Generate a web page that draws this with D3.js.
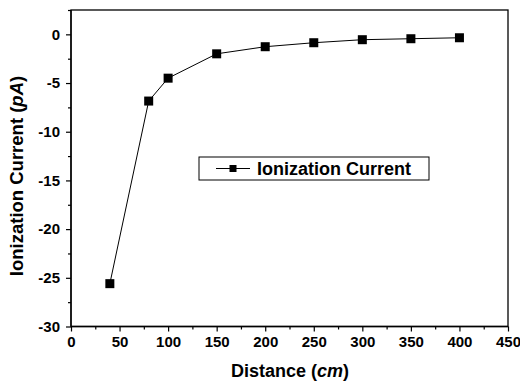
<!DOCTYPE html>
<html><head><meta charset="utf-8">
<script src="https://cdn.jsdelivr.net/npm/d3@7"></script>
<style>body{margin:0;background:#fff}svg{display:block}text{font-family:Arial,"Liberation Sans",sans-serif;font-weight:bold;fill:#000}</style>
</head><body>
<svg id="c" width="520" height="385"></svg>
<script>
const distance = [40, 80, 100, 150, 200, 250, 300, 350, 400];
const current = [-25.6, -6.85, -4.5, -2.0, -1.27, -0.86, -0.55, -0.45, -0.35];
const xTicks = [0, 50, 100, 150, 200, 250, 300, 350, 400, 450];
const yTicks = [0, -5, -10, -15, -20, -25, -30];
const seriesName = "Ionization Current";

const svg = d3.select("#c");
const L = 71, R = 508, T = 10, B = 326.5;
const x = d3.scaleLinear().domain([0, 450]).range([L, R]);
const y = d3.scaleLinear().domain([-30, 2.5]).range([B, T]);

svg.append("rect").attr("x", L).attr("y", T).attr("width", R - L).attr("height", B - T)
  .attr("fill", "none").attr("stroke", "#000").attr("stroke-width", 1.3);

const fmt = d => String(d);
const xAxis = svg.append("g").attr("transform", `translate(0,${B})`)
  .call(d3.axisBottom(x).tickValues(xTicks).tickFormat(fmt).tickSize(5).tickPadding(5));
const xMinor = svg.append("g").attr("transform", `translate(0,${B})`)
  .call(d3.axisBottom(x).tickValues(d3.range(25, 450, 50)).tickSize(3).tickFormat(""));
const yAxis = svg.append("g").attr("transform", `translate(${L},0)`)
  .call(d3.axisLeft(y).tickValues(yTicks).tickFormat(fmt).tickSize(5).tickPadding(6));
const yMinor = svg.append("g").attr("transform", `translate(${L},0)`)
  .call(d3.axisLeft(y).tickValues(d3.range(-27.5, 2.6, 5)).tickSize(3).tickFormat(""));
[xAxis, xMinor, yAxis, yMinor].forEach(g => {
  g.attr("font-size", null).attr("font-family", null);
  g.select(".domain").remove();
  g.selectAll("line").attr("stroke", "#000").attr("stroke-width", 1.2);
  g.selectAll("text").attr("font-size", 15).attr("font-weight", "bold")
    .attr("font-family", "Arial, 'Liberation Sans', sans-serif").attr("fill", "#000")
    .style("font-size", "15px").style("font-weight", "bold");
});
svg.append("line").attr("x1", L).attr("x2", R).attr("y1", B).attr("y2", B).attr("stroke", "#000").attr("stroke-width", 1.3);
svg.append("line").attr("x1", L).attr("x2", L).attr("y1", T).attr("y2", B).attr("stroke", "#000").attr("stroke-width", 1.3);

const pts = distance.map((d, i) => [d, current[i]]);
svg.append("path").datum(pts)
  .attr("d", d3.line().x(d => x(d[0])).y(d => y(d[1])))
  .attr("fill", "none").attr("stroke", "#000").attr("stroke-width", 1);
svg.selectAll("rect.pt").data(pts).enter().append("rect").attr("class", "pt")
  .attr("x", d => x(d[0]) - 4.5).attr("y", d => y(d[1]) - 4.5)
  .attr("width", 9).attr("height", 9).attr("fill", "#000");

// legend
const lg = svg.append("g");
lg.append("rect").attr("x", 199).attr("y", 157).attr("width", 230).attr("height", 23)
  .attr("fill", "#fff").attr("stroke", "#000").attr("stroke-width", 1);
lg.append("line").attr("x1", 216).attr("x2", 250).attr("y1", 168.5).attr("y2", 168.5).attr("stroke", "#000");
lg.append("rect").attr("x", 229.5).attr("y", 165).attr("width", 7).attr("height", 7).attr("fill", "#000");
lg.append("text").attr("x", 257).attr("y", 175).style("font-size", "18px").text(seriesName);

// axis titles
const xt = svg.append("text").attr("x", 290).attr("y", 377).attr("text-anchor", "middle").style("font-size", "18px");
xt.append("tspan").text("Distance (");
xt.append("tspan").style("font-style", "italic").text("cm");
xt.append("tspan").text(")");
const yt = svg.append("text").attr("transform", "translate(23,176) rotate(-90)").attr("text-anchor", "middle").style("font-size", "18.5px");
yt.append("tspan").text("Ionization Current (");
yt.append("tspan").style("font-style", "italic").text("pA");
yt.append("tspan").text(")");
</script>
</body></html>
